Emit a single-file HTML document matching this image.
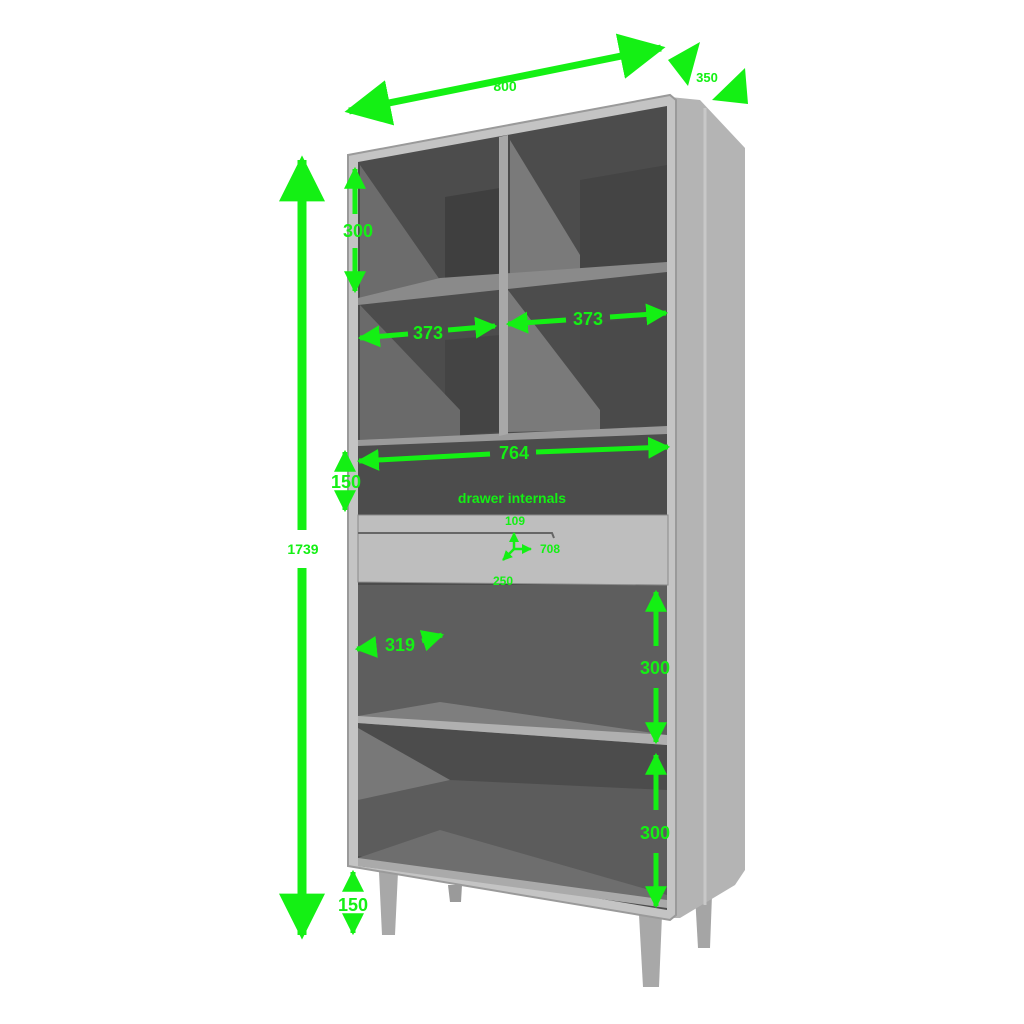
<!DOCTYPE html>
<html><head><style>html,body{margin:0;padding:0;background:#fff}svg{display:block}</style></head>
<body>
<svg width="1024" height="1024" viewBox="0 0 1024 1024" xmlns="http://www.w3.org/2000/svg" font-family="Liberation Sans, sans-serif">
<defs>
<marker id="hb" viewBox="0 0 10 10" refX="9" refY="5" markerWidth="46" markerHeight="46" markerUnits="userSpaceOnUse" orient="auto-start-reverse"><path d="M0,0 L10,5 L0,10 z" fill="#14f014"/></marker>
<marker id="hm" viewBox="0 0 10 10" refX="9" refY="5" markerWidth="22" markerHeight="22" markerUnits="userSpaceOnUse" orient="auto-start-reverse"><path d="M0,0 L10,5 L0,10 z" fill="#14f014"/></marker>
<marker id="hs" viewBox="0 0 10 10" refX="9" refY="5" markerWidth="10" markerHeight="10" markerUnits="userSpaceOnUse" orient="auto-start-reverse"><path d="M0,0 L10,5 L0,10 z" fill="#14f014"/></marker>
</defs>
<polygon points="448,885 462,885 461,902 450,902" fill="#9a9a9a"/>
<polygon points="695,895 712,895 710,948 698,948" fill="#a5a5a5"/>
<polygon points="379,872 398,872 395,935 382,935" fill="#a8a8a8"/>
<polygon points="639,915 662,915 659,987 643,987" fill="#a8a8a8"/>
<polygon points="670,97 700,100 745,148 745,870 735,885 680,918 672,918" fill="#b4b4b4"/>
<line x1="705" y1="108" x2="705" y2="905" stroke="#c8c8c8" stroke-width="3"/>
<polygon points="348,155 670,95 676,100 676,915 670,920 348,866" fill="#c4c4c4" stroke="#9a9a9a" stroke-width="2"/>
<polygon points="358,162 667,106 667,910 358,858" fill="#4c4c4c"/>
<polygon points="445,197 500,188 500,290 445,295" fill="#3f3f3f"/>
<polygon points="580,180 667,165 667,262 580,272" fill="#444"/>
<polygon points="445,340 500,335 500,432 445,436" fill="#444"/>
<polygon points="580,325 667,315 667,425 580,430" fill="#4a4a4a"/>
<polygon points="360,165 440,280 440,295 360,298" fill="#6c6c6c"/>
<polygon points="510,140 580,255 580,272 510,278" fill="#7a7a7a"/>
<polygon points="360,305 460,410 460,436 360,440" fill="#6a6a6a"/>
<polygon points="508,290 600,410 600,430 508,432" fill="#7a7a7a"/>
<polygon points="358,585 667,585 667,740 358,716" fill="#5e5e5e"/>
<polygon points="358,728 450,780 667,790 667,900 358,856" fill="#5c5c5c"/>
<polygon points="358,728 450,780 358,800" fill="#787878"/>
<polygon points="358,298 440,278 667,262 667,272 358,305" fill="#8a8a8a"/>
<polygon points="358,440 667,426 667,434 358,446" fill="#9a9a9a"/>
<polygon points="358,716 440,702 667,735 667,745 358,723" fill="#7e7e7e"/>
<polygon points="358,716 667,735 667,745 358,723" fill="#b0b0b0"/>
<polygon points="358,858 440,830 667,895 667,905 358,866" fill="#6e6e6e"/>
<polygon points="358,858 667,900 667,908 358,866" fill="#aaa"/>
<polygon points="499,137 508,135 508,434 499,436" fill="#a8a8a8"/>
<polygon points="358,515 668,515 668,585 358,582" fill="#bebebe" stroke="#8a8a8a" stroke-width="1"/>
<path d="M358,533 L552,533 L554,538" fill="none" stroke="#666" stroke-width="2"/>
<g stroke="#14f014" fill="none">
<line x1="349" y1="111" x2="661" y2="48" stroke-width="7" marker-start="url(#hb)" marker-end="url(#hb)"/>
<line x1="302" y1="160" x2="302" y2="530" stroke-width="9" marker-start="url(#hb)"/>
<line x1="302" y1="568" x2="302" y2="935" stroke-width="9" marker-end="url(#hb)"/>
<line x1="355" y1="169" x2="355" y2="214" stroke-width="5" marker-start="url(#hm)"/>
<line x1="355" y1="248" x2="355" y2="291" stroke-width="5" marker-end="url(#hm)"/>
<line x1="360" y1="338" x2="408" y2="334" stroke-width="5" marker-start="url(#hm)"/>
<line x1="448" y1="330" x2="495" y2="326" stroke-width="5" marker-end="url(#hm)"/>
<line x1="508" y1="324" x2="566" y2="320" stroke-width="5" marker-start="url(#hm)"/>
<line x1="610" y1="317" x2="666" y2="313" stroke-width="5" marker-end="url(#hm)"/>
<line x1="359" y1="461" x2="490" y2="454" stroke-width="5" marker-start="url(#hm)"/>
<line x1="536" y1="452" x2="668" y2="447" stroke-width="5" marker-end="url(#hm)"/>
<line x1="345" y1="452" x2="345" y2="466" stroke-width="5" marker-start="url(#hm)"/>
<line x1="345" y1="496" x2="345" y2="510" stroke-width="5" marker-end="url(#hm)"/>
<line x1="357" y1="649" x2="376" y2="647" stroke-width="5" marker-start="url(#hm)"/>
<line x1="422" y1="641" x2="442" y2="635" stroke-width="5" marker-end="url(#hm)"/>
<line x1="656" y1="592" x2="656" y2="646" stroke-width="5" marker-start="url(#hm)"/>
<line x1="656" y1="688" x2="656" y2="742" stroke-width="5" marker-end="url(#hm)"/>
<line x1="656" y1="755" x2="656" y2="810" stroke-width="5" marker-start="url(#hm)"/>
<line x1="656" y1="853" x2="656" y2="906" stroke-width="5" marker-end="url(#hm)"/>
<line x1="353" y1="872" x2="353" y2="886" stroke-width="5" marker-start="url(#hm)"/>
<line x1="353" y1="920" x2="353" y2="933" stroke-width="5" marker-end="url(#hm)"/>
<line x1="514" y1="549" x2="514" y2="533" stroke-width="2.5" marker-end="url(#hs)"/>
<line x1="514" y1="549" x2="531" y2="549" stroke-width="2.5" marker-end="url(#hs)"/>
<line x1="514" y1="549" x2="503" y2="560" stroke-width="2.5" marker-end="url(#hs)"/>
</g>
<polygon points="668,60 700,42 688,86" fill="#14f014"/>
<polygon points="745,68 748,104 712,100" fill="#14f014"/>
<g fill="#14f014" font-weight="bold" text-anchor="middle">
<text x="505" y="91" font-size="14">800</text>
<text x="707" y="82" font-size="13">350</text>
<text x="303" y="554" font-size="14">1739</text>
<text x="358" y="237" font-size="18">300</text>
<text x="428" y="339" font-size="18">373</text>
<text x="588" y="325" font-size="18">373</text>
<text x="514" y="459" font-size="18">764</text>
<text x="346" y="488" font-size="18">150</text>
<text x="512" y="503" font-size="14">drawer internals</text>
<text x="515" y="525" font-size="12">109</text>
<text x="550" y="553" font-size="12">708</text>
<text x="503" y="585" font-size="12">250</text>
<text x="400" y="651" font-size="18">319</text>
<text x="655" y="674" font-size="18">300</text>
<text x="655" y="839" font-size="18">300</text>
<text x="353" y="911" font-size="18">150</text>
</g>
</svg>
</body></html>
